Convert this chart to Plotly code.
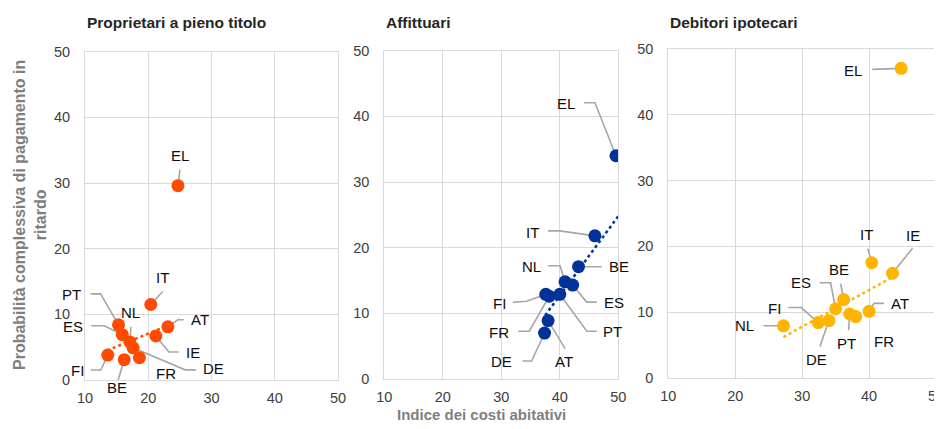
import plotly.graph_objects as go

# ---------------- data ----------------
countries = ["AT", "BE", "DE", "EL", "ES", "FI", "FR", "IE", "IT", "NL", "PT"]

panel_titles = ["Proprietari a pieno titolo", "Affittuari", "Debitori ipotecari"]

# Proprietari a pieno titolo
own_x = [23.1, 16.2, 17.6, 24.7, 15.9, 13.6, 18.6, 21.2, 20.4, 17.1, 15.3]
own_y = [8.1, 3.1, 4.9, 29.6, 6.9, 3.8, 3.4, 6.7, 11.5, 5.8, 8.4]
# Affittuari (no IE)
rent_x = [38.0, 43.2, 37.4, 49.6, 42.2, 37.6, 38.2, None, 46.0, 40.9, 40.0]
rent_y = [8.9, 17.1, 7.0, 34.0, 14.3, 12.9, 12.6, None, 21.8, 14.8, 12.9]
# Debitori ipotecari
mort_x = [40.0, 36.2, 34.0, 44.8, 35.0, 32.4, 38.0, 43.5, 40.4, 27.2, 37.1]
mort_y = [10.1, 11.9, 8.7, 47.1, 10.5, 8.4, 9.3, 15.9, 17.5, 7.9, 9.7]

# trend lines (end points)
own_trend_x = [13.5, 23.4]
own_trend_y = [4.5, 8.4]
rent_trend_x = [37.5, 50.0]
rent_trend_y = [9.7, 24.8]
mort_trend_x = [27.2, 43.5]
mort_trend_y = [6.2, 15.3]

x_ticks = [10, 20, 30, 40, 50]
y_ticks = [0, 10, 20, 30, 40, 50]

x_title = "Indice dei costi abitativi"
y_title = "Probabilità complessiva di pagamento in<br>ritardo"

# ---------------- styling ----------------
PAGE_W, PAGE_H = 942, 429
OFF = 8  # default page body margin
W, H = PAGE_W - OFF, PAGE_H - OFF


def fx(px):
    return (px - OFF) / W


def fy(py):
    return 1 - (py - OFF) / H


colors = ["#FF4B00", "#003299", "#FFB400"]
# plot areas in page pixels (left, right, top, bottom)
boxes = [(85, 338, 51.7, 380), (384.3, 618.3, 50.7, 379), (668.3, 936, 49.3, 377.7)]

# label offsets (screen px, y down) and leader polylines (screen px offsets)
label_pos = [
    {  # panel 1
        "EL": ((2, -30), [(2, -16), (0, 0)]),
        "IT": ((12, -27), [(12, -13), (0, 0)]),
        "AT": ((32, -7), [(16, -7), (10, -7), (0, 0)]),
        "IE": ((37, 16), [(23, 16), (13, 16), (0, 0)]),
        "PT": ((-47, -30), [(-28, -31), (-18, -31), (0, 0)]),
        "ES": ((-49, -8), [(-31, -9), (-18, -9), (0, 0)]),
        "NL": ((1, -29), [(1, -15), (0, 0)]),
        "DE": ((80, 21), [(63, 22), (52, 22), (0, 0)]),
        "FR": ((27, 16), None),
        "BE": ((-7, 28), [(-6, 20), (0, 0)]),
        "FI": ((-30, 15), [(-17, 15), (-7, 15), (0, 0)]),
    },
    {  # panel 2
        "EL": ((-50, -52), [(-32, -53), (-21, -53), (0, 0)]),
        "IT": ((-62, -3), [(-47, -5), (-35, -5), (0, 0)]),
        "BE": ((40, 0), [(23, 0), (0, 0)]),
        "NL": ((-34, -15), [(-17, -16), (-5, -16), (0, 0)]),
        "ES": ((41, 17), [(24, 17), (14, 17), (0, 0)]),
        "FI": ((-46, 9), [(-33, 8), (-19, 7), (0, 0)]),
        "FR": ((-50, 36), [(-31, 35), (-20, 35), (0, 0)]),
        "PT": ((53, 37), [(37, 37), (27, 37), (0, 0)]),
        "AT": ((16, 41), [(17, 28), (0, 0)]),
        "DE": ((-43, 28), [(-22, 28), (-13, 28), (0, 0)]),
    },
    {  # panel 3
        "EL": ((-48, 2), [(-29, 1), (0, 0)]),
        "IT": ((-5, -28), [(-4, -14), (0, 0)]),
        "IE": ((20, -38), [(20, -25), (0, 0)]),
        "BE": ((-5, -30), [(-3, -16), (0, 0)]),
        "ES": ((-35, -26), [(-16, -26), (-5, -26), (0, 0)]),
        "FI": ((-44, -14), [(-30, -15), (-17, -15), (0, 0)]),
        "NL": ((-39, 0), [(-20, 0), (0, 0)]),
        "DE": ((-12, 39), [(-9, 26), (0, 0)]),
        "PT": ((-3, 30), [(-1, 16), (0, 0)]),
        "FR": ((28, 25), None),
        "AT": ((31, -8), [(15, -8), (5, -8), (0, 0)]),
    },
]

grid_col = "#D9D9D9"
lead_col = "#A6A6A6"
lab_font = dict(family="Liberation Sans, Arial, sans-serif", size=15, color="#0D0D0D")
tick_font = dict(family="Liberation Sans Narrow, Arial Narrow, Liberation Sans, sans-serif",
                 size=14.5, color="#404040")

series_x = [own_x, rent_x, mort_x]
series_y = [own_y, rent_y, mort_y]
trend_x = [own_trend_x, rent_trend_x, mort_trend_x]
trend_y = [own_trend_y, rent_trend_y, mort_trend_y]

fig = go.Figure()
shapes = []
annotations = []

for i in range(3):
    sfx = "" if i == 0 else str(i + 1)
    xa, ya = "x" + sfx, "y" + sfx
    # trend line
    fig.add_trace(go.Scatter(
        x=trend_x[i], y=trend_y[i], mode="lines", xaxis=xa, yaxis=ya,
        line=dict(color=colors[i], width=2.5, dash="dot"), hoverinfo="skip",
        showlegend=False))
    # points
    fig.add_trace(go.Scatter(
        x=series_x[i], y=series_y[i], mode="markers", xaxis=xa, yaxis=ya,
        text=countries, marker=dict(color=colors[i], size=13, line=dict(width=0)),
        showlegend=False))
    # labels and leaders
    for c, px, py in zip(countries, series_x[i], series_y[i]):
        if px is None or c not in label_pos[i]:
            continue
        (dx, dy), lead = label_pos[i][c]
        annotations.append(dict(
            x=px, y=py, xref=xa, yref=ya, text=c, showarrow=False,
            xshift=dx, yshift=-dy, xanchor="center", yanchor="middle", font=lab_font))
        if lead:
            path = "M " + " L ".join(f"{a} {-b}" for a, b in lead)
            shapes.append(dict(
                type="path", path=path, xref=xa, yref=ya,
                xsizemode="pixel", ysizemode="pixel", xanchor=px, yanchor=py,
                line=dict(color=lead_col, width=1.6), layer="between"))
    # axes
    l, r, t, b = boxes[i]
    axis_common = dict(showgrid=True, gridcolor=grid_col, gridwidth=1, zeroline=False,
                       showline=True, linecolor=grid_col, linewidth=1, mirror=True,
                       tickfont=tick_font, ticks="", automargin=False,
                       ticklabeloverflow="allow")
    fig.layout["xaxis" + sfx] = dict(
        axis_common, domain=[fx(l), fx(r)], range=[10, 50], tickvals=x_ticks,
        anchor=ya, ticklabelstandoff=5)
    fig.layout["yaxis" + sfx] = dict(
        axis_common, domain=[fy(b), fy(t)], range=[0, 50], tickvals=y_ticks,
        anchor=xa, ticklabelstandoff=11)
    # panel title
    annotations.append(dict(
        x=fx(l), y=fy(22), xref="paper", yref="paper", text=panel_titles[i],
        showarrow=False, xanchor="left", yanchor="middle",
        font=dict(family="Liberation Sans, Arial, sans-serif", size=15.5, color="#262626",
                  weight="bold")))

# axis titles
annotations.append(dict(
    x=fx(482), y=fy(414), xref="paper", yref="paper", text=x_title, showarrow=False,
    xanchor="center", yanchor="middle",
    font=dict(family="Liberation Sans, Arial, sans-serif", size=15, color="#7F7F7F",
              weight="bold")))
annotations.append(dict(
    x=fx(30), y=fy(215), xref="paper", yref="paper", text=y_title, showarrow=False,
    xanchor="center", yanchor="middle", textangle=-90,
    font=dict(family="Liberation Sans, Arial, sans-serif", size=16, color="#7F7F7F",
              weight="bold")))

fig.update_layout(
    width=W, height=H, margin=dict(l=0, r=0, t=0, b=0, autoexpand=False),
    paper_bgcolor="white", plot_bgcolor="white",
    shapes=shapes, annotations=annotations, showlegend=False,
)

fig.write_html("out.html")
